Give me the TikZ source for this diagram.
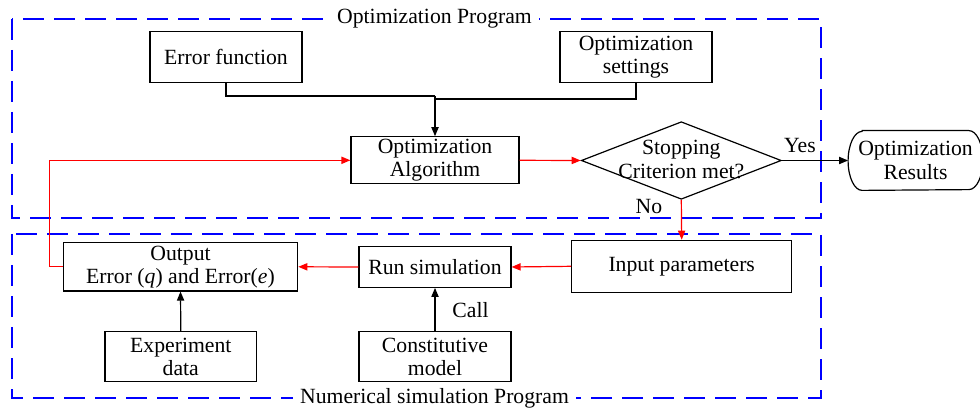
\documentclass[tikz,border=0pt]{standalone}
\usepackage{fontspec}
\setmainfont{Liberation Serif}
\usetikzlibrary{arrows.meta,shapes.geometric}
\begin{document}
\begin{tikzpicture}[x=0.5pt,y=-0.5pt,
  font=\fontsize{10.85}{11.6}\selectfont,
  box/.style={draw,line width=0.6pt,align=center,inner sep=0pt},
  conn/.style={line width=0.6pt},
  blk/.style={line width=0.6pt,-{Triangle[length=4.5pt,width=3.6pt]}},
  redarr/.style={red,line width=0.6pt,-{Triangle[length=4.5pt,width=3.6pt]}},
  region/.style={blue,line width=1.15pt,dash pattern=on 10.5pt off 5pt},
  regionlabel/.style={fill=white,inner xsep=3.5pt,inner ysep=1pt},
  plain/.style={inner sep=0pt,align=center}]
\useasboundingbox (0,0) rectangle (980,411);

% program regions
\draw[region] (11.7,19) -- (11.7,217.7) -- (821,217.7) -- (821,19) -- cycle;
\draw[region] (11.7,234) -- (11.7,398.3) -- (821,398.3) -- (821,234) -- cycle;
\node[regionlabel] (optlabel) at (434.5,19) {Optimization Program};
\node[regionlabel] (numlabel) at (434.5,398.3) {Numerical simulation Program};

% nodes
\node[box,minimum width=76pt,minimum height=25.5pt] (err) at (226,57.3) {Error function};
\node[box,minimum width=76pt,minimum height=25.5pt] (set) at (636,57) {Optimization\\settings};
\node[box,minimum width=84pt,minimum height=23.5pt] (alg) at (435,160.3) {Optimization\\Algorithm};
\node[draw,diamond,line width=0.6pt,minimum width=100pt,minimum height=38.8pt,inner sep=0pt] (stop) at (681.3,160.5) {};
\node[plain] (stoptext) at (681.3,159.5) {Stopping\\Criterion met?};
\node[plain,minimum width=67pt,minimum height=29.5pt] (res) at (915.5,160.5) {Optimization\\Results};
\draw[line width=0.6pt] ([xshift=7pt]res.north west) -- ([xshift=-7pt]res.north east)
  arc[start angle=90,end angle=-90,x radius=7pt,y radius=14.75pt]
  -- ([xshift=7pt]res.south west)
  arc[start angle=270,end angle=90,x radius=7pt,y radius=14.75pt] -- cycle;

\node[box,minimum width=110pt,minimum height=26pt] (inp) at (681.7,266.3) {Input parameters};
\node[box,minimum width=76pt,minimum height=20.3pt] (run) at (435,267) {Run simulation};
\node[box,minimum width=117.2pt,minimum height=24.2pt] (out) at (180.5,266.8) {Output\\Error (\textit{q}) and Error(\textit{e})};
\node[box,minimum width=75.8pt,minimum height=25pt] (exp) at (180.8,356.7) {Experiment\\data};
\node[box,minimum width=76pt,minimum height=25pt] (con) at (435,356.7) {Constitutive\\model};

% labels
\node[plain] (yes) at (800,146) {Yes};
\node[plain] (no) at (649,206.5) {No};
\node[plain] (call) at (470.5,310) {Call};

% connectors
\coordinate (j1) at (435,96);
\coordinate (j2) at (435,99);
\draw[conn] (err.south) |- (j1);
\draw[conn] (set.south) |- (j2);
\draw[blk] (j1) -- (alg.north);
\draw[redarr] (alg.east) -- (stop.west);
\draw[blk] (stop.east) -- (res.west);
\draw[redarr] (stop.south) -- (inp.north);
\draw[redarr] (inp.west) -- (run.east);
\draw[redarr] (run.west) -- (out.east);
\draw[redarr] (out.west) -- ++(-13.3,0) |- (alg.west);
\draw[blk] (exp.north) -- (out.south);
\draw[blk] (con.north) -- (run.south);
\end{tikzpicture}
\end{document}
